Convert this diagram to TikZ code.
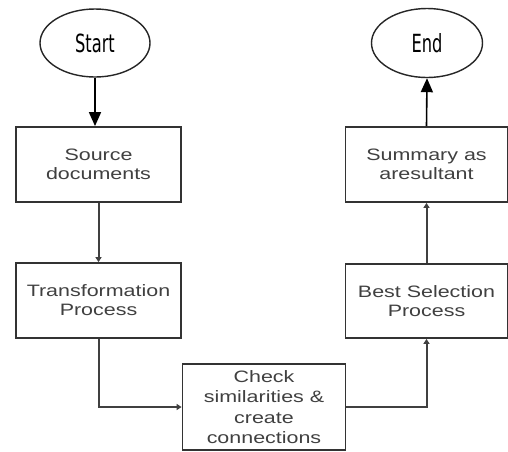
\documentclass[tikz,border=0pt]{standalone}
\usepackage{fontspec}
\usetikzlibrary{arrows.meta,shapes.geometric}
\newfontfamily\boxfont[FakeStretch=1.3]{Liberation Sans}
\newfontfamily\ovalfont[FakeStretch=0.65]{DejaVu Sans}
\begin{document}
\begin{tikzpicture}[x=1pt,y=-1pt,
  procbox/.style={draw=black!80, line width=1.8pt, rectangle, inner sep=0pt,
    align=center, text=black!75, font=\boxfont\fontsize{16.5}{19}\selectfont},
  oval/.style={draw=black!85, line width=1.4pt, ellipse, inner sep=0pt,
    font=\ovalfont\fontsize{25}{28}\selectfont},
  bigarrow/.style={draw=black, line width=1.6pt, -{Triangle[width=12pt,length=14pt]}},
  smallarrow/.style={draw=black!75, line width=2pt, -{Triangle[width=6pt,length=5pt]}}
]
\useasboundingbox[fill=white] (0,0) rectangle (508,451);

\node[oval, minimum width=110pt, minimum height=68pt] (start) at (95,43) {Start};
\node[oval, minimum width=111pt, minimum height=69pt] (end) at (427,43) {End};

\node[procbox, minimum width=165pt, minimum height=75pt] (source) at (98.5,164.5) {Source\\documents};
\node[procbox, minimum width=165pt, minimum height=75pt] (trans) at (98.5,300.5) {Transformation\\Process};
\node[procbox, minimum width=163pt, minimum height=86pt, font=\boxfont\fontsize{16.5}{20.3}\selectfont] (check) at (264,407) {Check\\similarities \&\\create\\connections};
\node[procbox, minimum width=162pt, minimum height=74pt] (best) at (426.5,301) {Best Selection\\Process};
\node[procbox, minimum width=162pt, minimum height=75pt] (summary) at (426.5,164.5) {Summary as\\aresultant};

\draw[bigarrow] (start.south) -- (start.south |- source.north);
\draw[smallarrow] (source.south) -- (trans.north);
\draw[smallarrow] (trans.south) |- (check.west);
\draw[smallarrow] (check.east) -| (best.south);
\draw[smallarrow] (best.north) -- (summary.south);
\draw[bigarrow] (summary.north) -- (end.south);
\end{tikzpicture}
\end{document}
